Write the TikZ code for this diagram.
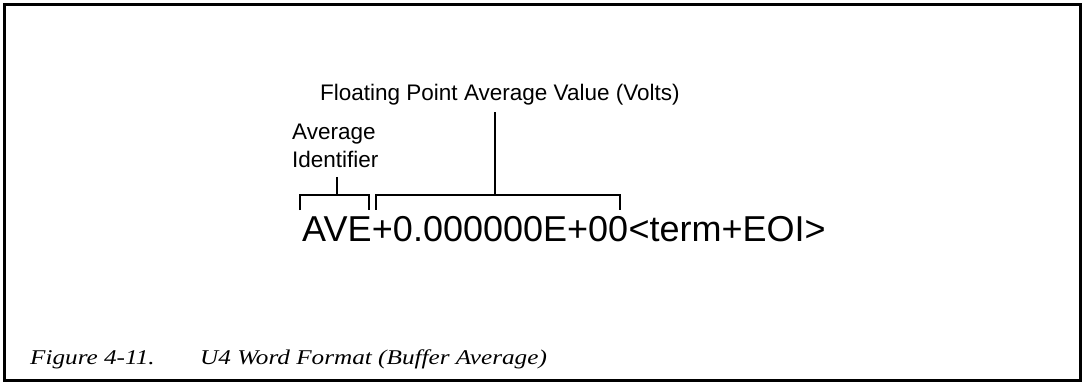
\documentclass[tikz,border=0pt]{standalone}
\usepackage{fontspec}
\setmainfont{Liberation Sans}
\newfontfamily\captionfont[FakeStretch=1.2]{Liberation Serif}
\usetikzlibrary{positioning, calc}
\tikzset{
	labelnode/.style={
			inner sep=0pt,
			anchor=base west,
			font=\fontsize{22.5}{27}\selectfont
		},
	wordnode/.style={
			inner sep=0pt,
			anchor=base west,
			font=\fontsize{36}{43}\selectfont
		},
	captionnode/.style={
			inner sep=0pt,
			anchor=base west,
			font=\fontsize{21}{25}\captionfont\itshape
		}
}
\tikzset{
	bracketline/.style={line width=2pt},
	framebox/.style={line width=3pt}
}

\begin{document}
\begin{tikzpicture}[x=1pt, y=-1pt]
  \useasboundingbox (0,0) rectangle (1082,382);
  \draw[framebox] (4.5,5) rectangle (1080.3,380.3);

  \node[labelnode] (fp) at (320,100.5) {Floating Point Average Value (Volts)};
  \node[labelnode] (id1) at (292,140) {Average};
  \node[labelnode] (id2) at (292,168) {Identifier};

  \node[wordnode] (ave) at (302,242) {AVE};
  \node[wordnode] (val) at (ave.base east) {+0.000000E+00};
  \node[wordnode] (term) at (val.base east) {<term+EOI>};

  \coordinate (aveL) at ([xshift=-2.5pt, yshift=7pt]ave.north west);
  \coordinate (aveR) at ([xshift=-2.5pt, yshift=7pt]ave.north east);
  \coordinate (valL) at ([xshift=4pt, yshift=7pt]val.north west);
  \coordinate (valR) at ([xshift=-8pt, yshift=7pt]val.north east);

  \draw[bracketline] (aveL) -- ++(0,-15) coordinate (aveT) -| (aveR);
  \draw[bracketline] (valL) -- ++(0,-15) coordinate (valT) -| (valR);
  \draw[bracketline] ([xshift=1.5pt, yshift=-8.5pt]id2.south) -- ([xshift=1.5pt]id2.south |- aveT);
  \draw[bracketline] ([xshift=-4.5pt, yshift=-6.8pt]fp.south) -- ([xshift=-4.5pt]fp.south |- valT);

  \node[captionnode] (cap1) at (30,364) {Figure 4-11.};
  \node[captionnode] (cap2) at (200,364) {U4 Word Format (Buffer Average)};

\end{tikzpicture}
\end{document}
